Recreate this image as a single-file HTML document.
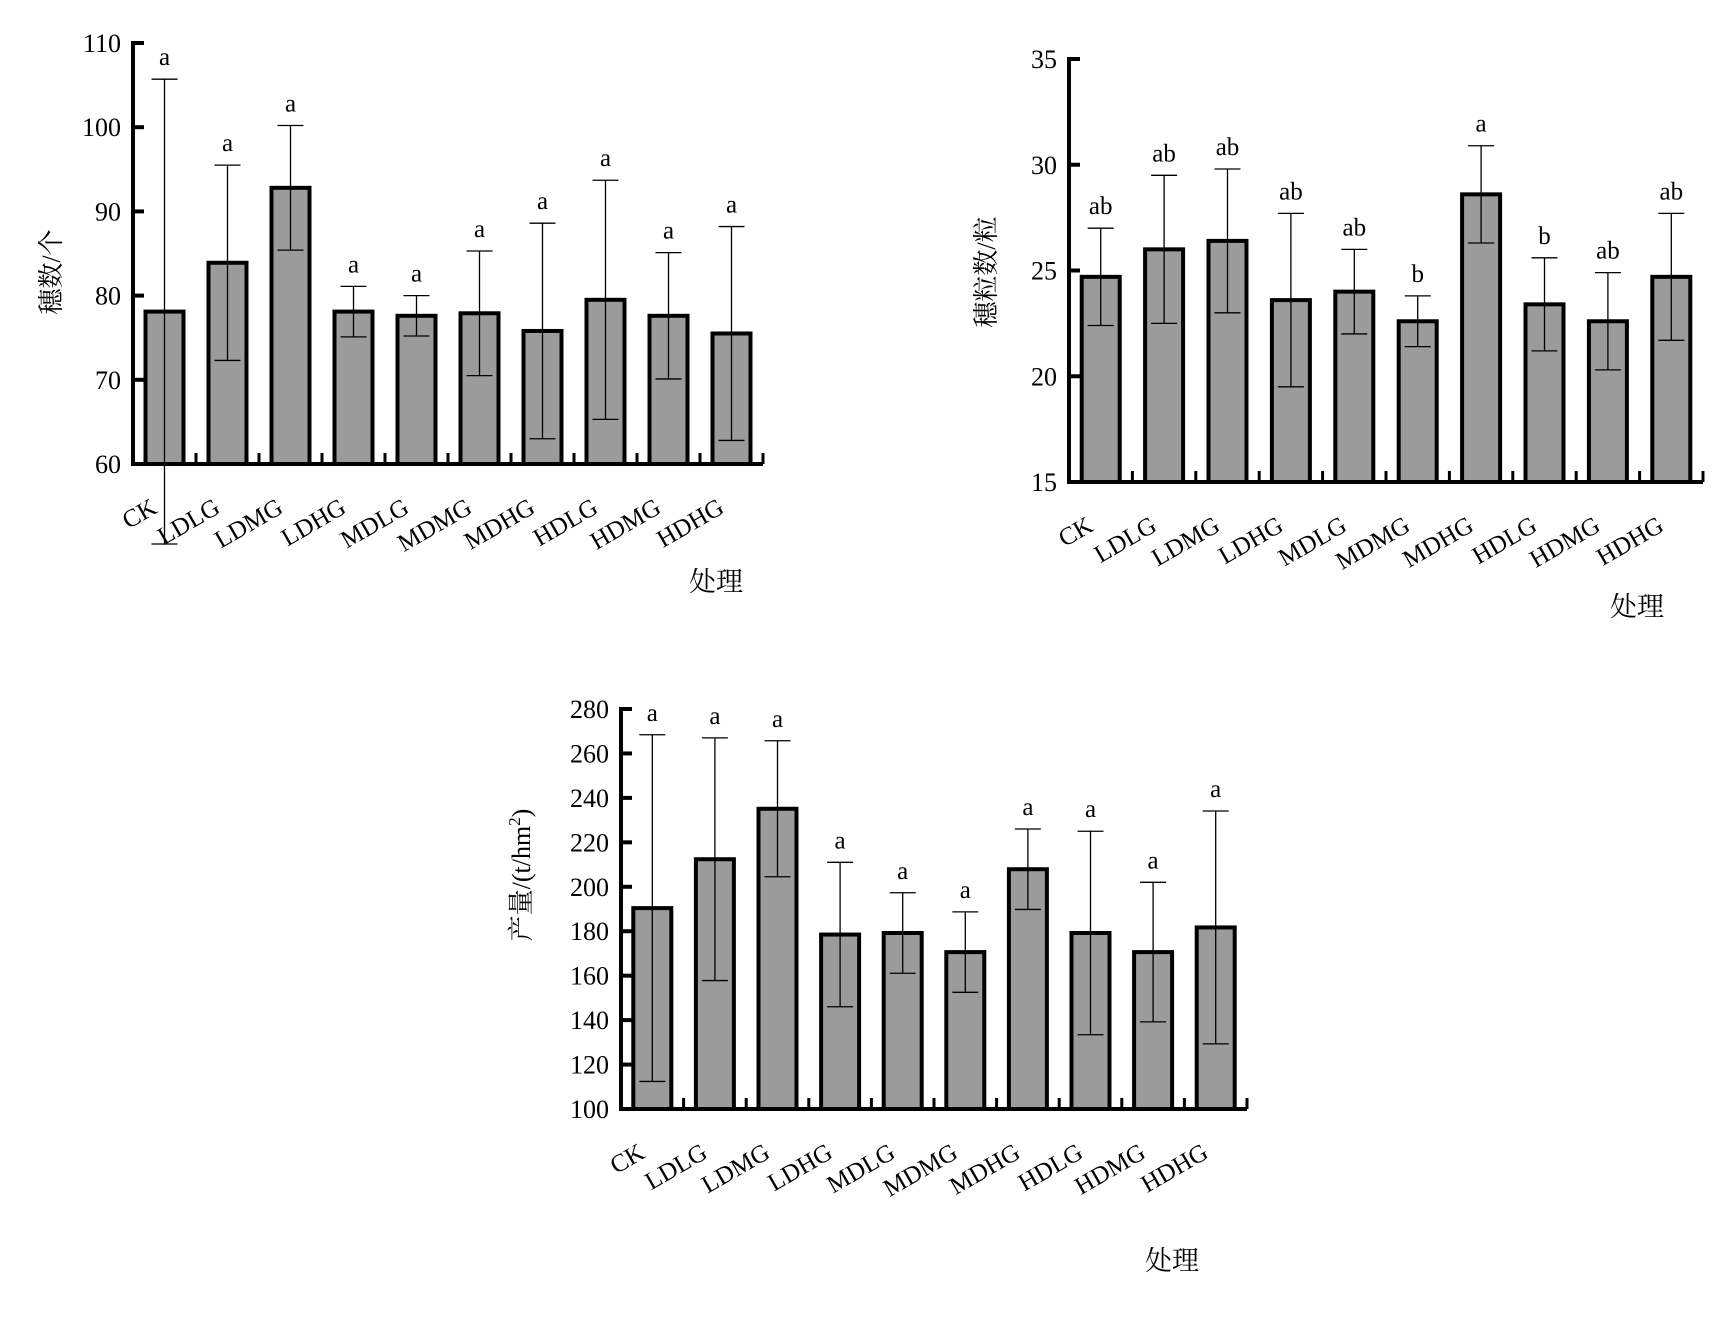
<!DOCTYPE html>
<html><head><meta charset="utf-8"><style>
html,body{margin:0;padding:0;background:#fff;}
svg{display:block;font-family:"Liberation Serif","Noto Serif CJK SC",serif;}
</style></head><body>
<svg id="svg" width="1728" height="1319" viewBox="0 0 1728 1319" xmlns="http://www.w3.org/2000/svg"></svg>
<script>
const categories = ["CK","LDLG","LDMG","LDHG","MDLG","MDMG","MDHG","HDLG","HDMG","HDHG"];
// Chart 1: 穗数/个
const spikeMeans = [78.1,83.9,92.8,78.1,77.6,77.9,75.8,79.5,77.6,75.5];
const spikeErrTop = [105.7,95.5,100.2,81.1,80.0,85.3,88.6,93.7,85.1,88.2];
const spikeLetters = ["a","a","a","a","a","a","a","a","a","a"];
const spikeTicks = [60,70,80,90,100,110];
// Chart 2: 穗粒数/粒
const grainMeans = [24.7,26.0,26.4,23.6,24.0,22.6,28.6,23.4,22.6,24.7];
const grainErrTop = [27.0,29.5,29.8,27.7,26.0,23.8,30.9,25.6,24.9,27.7];
const grainLetters = ["ab","ab","ab","ab","ab","b","a","b","ab","ab"];
const grainTicks = [15,20,25,30,35];
// Chart 3: 产量
const yieldMeans = [190.4,212.4,235.1,178.5,179.2,170.6,207.9,179.2,170.6,181.7];
const yieldErrTop = [268.4,267.0,265.7,211.0,197.3,188.7,226.0,225.0,202.0,234.1];
const yieldLetters = ["a","a","a","a","a","a","a","a","a","a"];
const yieldTicks = [100,120,140,160,180,200,220,240,260,280];

const NS="http://www.w3.org/2000/svg";
const svg=document.getElementById('svg');
function mk(tag,attrs,parent){const e=document.createElementNS(NS,tag);for(const k in attrs)e.setAttribute(k,attrs[k]);(parent||svg).appendChild(e);return e;}

function chart(cfg){
  const g=mk('g',{});
  
  
  const {x0,x1,yTop,yBot,vMin,vMax}=cfg;
  const y=v=>yBot-(v-vMin)/(vMax-vMin)*(yBot-yTop);
  const pitch=(x1-x0)/categories.length;
  const cx=i=>x0+pitch*(i+0.5);
  // bars
  categories.forEach((c,i)=>{
    const top=y(cfg.means[i]);
    const r=mk('rect',{x:cx(i)-19,y:top,width:38,height:yBot-top,fill:'#9b9b9b',stroke:'#000','stroke-width':4},g);
    
    
    const sd=cfg.err[i]-cfg.means[i];
    const et=y(cfg.err[i]), eb=y(cfg.means[i]-sd);
    const eg=mk('g',{stroke:'#000','stroke-width':1.3},g);
    
    
    mk('line',{x1:cx(i),x2:cx(i),y1:et,y2:eb},eg);
    mk('line',{x1:cx(i)-13,x2:cx(i)+13,y1:et,y2:et},eg);
    mk('line',{x1:cx(i)-13,x2:cx(i)+13,y1:eb,y2:eb},eg);
    const t=mk('text',{x:cx(i),y:et-14,'text-anchor':'middle','font-size':25},g);
    t.textContent=cfg.letters[i];
    
    
    const l=mk('text',{x:0,y:0,'text-anchor':'end','font-size':25,transform:`translate(${cx(i)-6},${yBot+48}) rotate(-30)`},g);
    l.textContent=c;
    
    
    if(i>0){mk('line',{x1:x0+pitch*i,x2:x0+pitch*i,y1:yBot,y2:yBot-11,stroke:'#000','stroke-width':3},g);}
  });
  mk('line',{x1:x1,x2:x1,y1:yBot,y2:yBot-11,stroke:'#000','stroke-width':3},g);
  // axes
  const ax=mk('path',{d:`M${x0},${yTop-2} V${yBot} H${x1}`,fill:'none',stroke:'#000','stroke-width':4},g);
  
  
  cfg.ticks.forEach(v=>{
    mk('line',{x1:x0,x2:x0+11,y1:y(v),y2:y(v),stroke:'#000','stroke-width':4},g);
    const t=mk('text',{x:x0-12,y:y(v)+9,'text-anchor':'end','font-size':26},g);
    t.textContent=v;
    
    
  });
  const yt=mk('text',{x:0,y:0,'text-anchor':'middle','font-size':26,transform:`translate(${cfg.ytx},${cfg.yty}) rotate(-90)`},g);
  yt.innerHTML=cfg.ytitle;
  
  
  const xt=mk('text',{x:cfg.xtx,y:cfg.xty,'text-anchor':'middle','font-size':27},g);
  xt.textContent='处理';
  
  
}
chart({name:'spike-number-chart',x0:133,x1:763,yTop:43,yBot:464,vMin:60,vMax:110,means:spikeMeans,err:spikeErrTop,letters:spikeLetters,ticks:spikeTicks,ytitle:'穗数/个',ytx:60,yty:272,xtx:716,xty:591});
chart({name:'grain-number-chart',x0:1069,x1:1703,yTop:59,yBot:482,vMin:15,vMax:35,means:grainMeans,err:grainErrTop,letters:grainLetters,ticks:grainTicks,ytitle:'穗粒数/粒',ytx:995,yty:272,xtx:1637,xty:616});
chart({name:'yield-chart',x0:621,x1:1247,yTop:709,yBot:1109,vMin:100,vMax:280,means:yieldMeans,err:yieldErrTop,letters:yieldLetters,ticks:yieldTicks,ytitle:'产量/(t/hm<tspan dy="-10" font-size="17">2</tspan><tspan dy="10">)</tspan>',ytx:530,yty:875,xtx:1172,xty:1270});
</script>
</body></html>
